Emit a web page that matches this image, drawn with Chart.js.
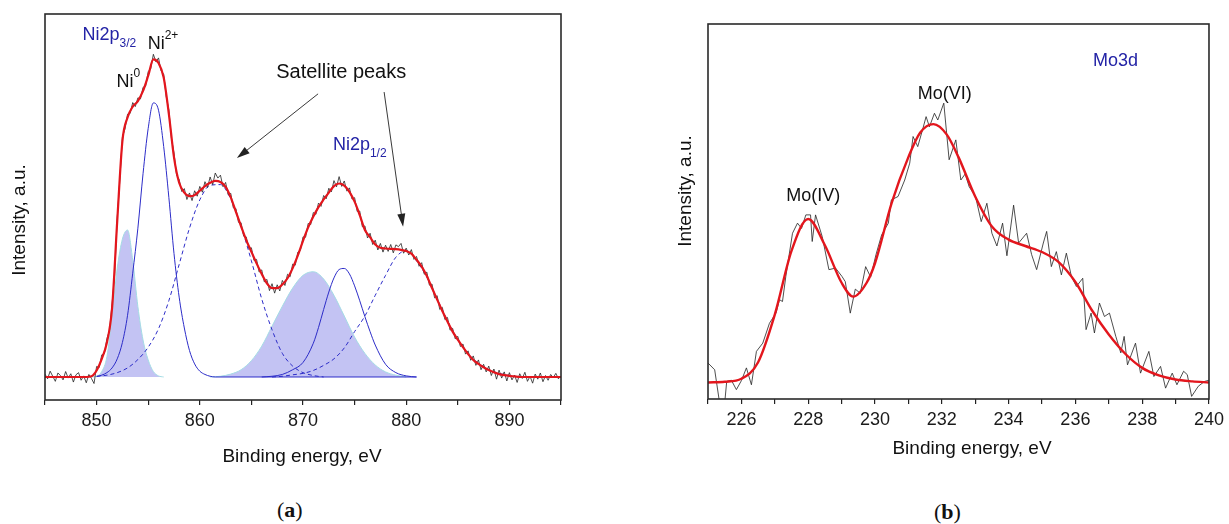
<!DOCTYPE html>
<html>
<head>
<meta charset="utf-8">
<title>XPS spectra: Ni2p and Mo3d</title>
<script src="https://cdn.jsdelivr.net/npm/chart.js@4.4.1/dist/chart.umd.min.js"></script>
<style>
  html, body { margin: 0; padding: 0; background: #fff; }
  #page { position: relative; width: 1229px; height: 524px; overflow: hidden; }
  #niChart { position: absolute; left: 0; top: 0; }
  #moChart { position: absolute; left: 640px; top: 0; }
  .panel-tag {
    position: absolute;
    font-family: "Liberation Serif", "DejaVu Serif", serif;
    font-size: 22px;
    line-height: 22px;
    color: #111;
  }
</style>
</head>
<body>
<div id="page">
  <canvas id="niChart" width="600" height="475"></canvas>
  <canvas id="moChart" width="589" height="475"></canvas>
  <div class="panel-tag" style="left:277px; top:499px;">(<b>a</b>)</div>
  <div class="panel-tag" style="left:934px; top:501px;">(<b>b</b>)</div>
</div>
<script>
// ---- Ni2p spectrum (binding energy in eV, intensity in a.u. with baseline at 0) ----
const niRawStart = 845;
const niRawStep = 0.25;
const niRaw = [
  0.8, -0.5, 1.6, 0.2, -1.2, 1.1, 0.4, -0.8, 1.5, -0.3, 0.9, -1.4, 0.6, 1.2, -0.9, 0.3, -1.6, 0.7, -0.4, -1.8,
  2.9, 2.6, 6.1, 6.4, 10.6, 12.8, 20.2, 28.1, 44.0, 54.2, 66.1, 68.3, 72.4, 72.6, 75.6, 74.5, 76.9, 76.6, 79.8, 80.1,
  84.1, 85.0, 88.9, 86.8, 87.9, 84.3, 83.4, 77.2, 73.6, 65.8, 61.7, 55.6, 54.4, 51.1, 51.9, 48.9, 50.7, 48.6, 51.3, 49.8,
  52.5, 50.9, 53.8, 52.2, 55.1, 53.0, 56.2, 54.8, 55.6, 52.4, 53.6, 50.2, 50.6, 46.6, 46.4, 42.6, 42.5, 38.8, 38.6, 35.4,
  35.6, 32.1, 32.4, 28.9, 29.5, 26.2, 26.9, 23.8, 25.7, 23.1, 25.4, 23.7, 26.6, 25.2, 28.3, 27.6, 31.1, 30.8, 34.4, 34.9,
  38.6, 38.5, 42.3, 42.0, 45.3, 44.8, 47.9, 47.0, 50.0, 49.1, 52.0, 51.0, 54.1, 52.4, 55.2, 52.5, 54.0, 51.2, 52.1, 49.0,
  49.4, 45.6, 45.7, 41.4, 41.6, 38.3, 39.6, 36.5, 37.7, 35.0, 36.8, 34.4, 36.3, 34.6, 36.5, 34.2, 36.4, 35.9, 36.8, 34.1,
  35.5, 33.6, 35.1, 32.4, 33.2, 30.5, 31.5, 28.3, 28.9, 25.3, 25.6, 21.8, 22.4, 18.6, 19.2, 15.8, 16.4, 12.9, 13.4, 10.5,
  11.2, 8.4, 9.1, 6.3, 7.2, 4.6, 5.8, 3.2, 4.7, 2.0, 3.5, 1.4, 3.0, 0.4, 2.2, -0.6, 1.9, -0.3, 1.4, -1.1,
  1.2, -0.8, 0.5, -1.5, 0.9, -0.4, 1.3, -1.2, 0.2, -1.7, 0.8, -0.6, 1.1, -1.3, 0.4, -0.9, 0.7, -0.2, 1.0, -0.5, 0.3
];

// envelope of the fit, every 0.5 eV
const niFitStart = 845;
const niFitStep = 0.5;
const niFit = [
  0, 0, 0, 0, 0, 0, 0, 0, 0, 0.2,
  1.8, 5, 9.5, 19, 43, 65, 71.5, 74.5, 76, 78.8,
  83, 87.5, 86.5, 82.5, 72.5, 60.5, 53.5, 50.8, 49.8, 50.1,
  51.3, 52.6, 53.5, 54, 53.7, 52.4, 49.5, 45.5, 41.5, 37.7,
  34.5, 31.3, 28.4, 25.8, 24.5, 24.5, 25.5, 27.2, 30, 33.5,
  37.5, 41.2, 44.2, 46.8, 48.9, 50.8, 52.6, 53.3, 52.7, 51,
  48.3, 44.6, 40.5, 38.5, 36.5, 35.6, 35.4, 35.3, 35.2, 35,
  34.7, 34, 32.3, 30.4, 27.8, 24.5, 21.3, 18.2, 15.3, 12.5,
  10.3, 8.2, 6.3, 4.7, 3.6, 2.7, 1.9, 1.3, 0.8, 0.5,
  0.3, 0.15, 0, 0, 0, 0, 0, 0, 0, 0, 0
];

// fitted components
const ni0Energy = [849.5, 850, 850.5, 851, 851.5, 852, 852.5, 853, 853.5, 854, 854.5, 855, 855.5, 856, 856.5];
const ni0Peak   = [0, 0.2, 1.5, 5.6, 17, 30, 38, 40.5, 32.2, 19.4, 10.2, 4.7, 1.5, 0.3, 0];

// Ni2+ 2p3/2 line, its zero tail runs on as the drawn baseline
const ni2Energy = [850, 850.5, 851, 851.5, 852, 852.5, 853, 853.5, 854, 854.5, 855, 855.5,
                   856, 856.5, 857, 857.5, 858, 858.5, 859, 859.5, 860, 860.5, 861, 861.5, 870, 881];
const ni2Peak   = [0.1, 0.5, 1.2, 2.5, 5, 9.5, 17, 28.6, 41, 56, 68.5, 75.5,
                   73.5, 63.5, 49.5, 34, 22, 13.5, 7.3, 3.6, 1.6, 0.7, 0.2, 0, 0, 0];

const sat1Energy = [850, 851, 852, 853, 854, 855, 856, 857, 858, 859, 860, 861,
                    862, 863, 864, 865, 866, 867, 868, 869, 870, 871, 872];
const sat1Peak   = [0.2, 0.5, 1.2, 2.5, 4.8, 8.2, 13.3, 21, 31, 41, 48.8, 52.8,
                    53, 49, 41.5, 32, 21.5, 13, 6.5, 3, 1.2, 0.4, 0];

const ni0bEnergy = [861, 862, 863, 864, 865, 866, 867, 868, 869, 870, 871, 872, 873, 874, 875, 876, 877, 878, 879, 880];
const ni0bPeak   = [0, 0.2, 0.8, 2, 4.5, 8.5, 14, 19.5, 24.5, 28, 29, 27, 22.5, 16.8, 11, 6.5, 3.3, 1.4, 0.5, 0];

const ni2bEnergy = [866, 867, 868, 869, 870, 871, 871.5, 872, 872.5, 873, 873.5, 874,
                    874.5, 875, 875.5, 876, 876.5, 877, 878, 879, 880, 881];
const ni2bPeak   = [0, 0.2, 0.7, 2, 4, 9.3, 13.6, 18.6, 23.4, 27.3, 29.6, 29.9,
                    28.4, 25.1, 21, 16.6, 12.5, 8.8, 3.5, 1.2, 0.3, 0];

const sat2Energy = [867, 868, 869, 870, 871, 872, 873, 874, 875, 876, 877, 878, 879,
                    880, 881, 882, 883, 884, 885, 886, 887, 888, 889, 890, 891];
const sat2Peak   = [0, 0.2, 0.6, 1, 1.8, 3.2, 5, 8, 12.5, 16.8, 22.5, 28, 33,
                    34.8, 32, 27.5, 21.5, 15.5, 10.3, 6.4, 3.8, 2, 1, 0.4, 0];

// ---- Mo3d spectrum ----
const moRawEnergy = [
  225.0, 225.2, 225.38, 225.48, 225.56, 225.7, 225.85, 226.0, 226.15, 226.3, 226.45, 226.64, 226.84,
  227.04, 227.14, 227.23, 227.33, 227.53, 227.68, 227.8, 227.93, 228.07, 228.12, 228.22, 228.42, 228.62,
  228.82, 229.01, 229.11, 229.26, 229.41, 229.56, 229.72, 229.87, 230.03, 230.2, 230.4, 230.49, 230.69,
  230.89, 231.04, 231.14, 231.28, 231.43, 231.53, 231.63, 231.78, 231.88, 232.06, 232.22, 232.42, 232.57,
  232.7, 232.82, 233.01, 233.18, 233.35, 233.5, 233.65, 233.82, 233.95, 234.15, 234.3, 234.54, 234.69,
  234.84, 235.04, 235.14, 235.28, 235.43, 235.58, 235.73, 235.88, 236.03, 236.22, 236.32, 236.47, 236.57,
  236.72, 236.87, 237.02, 237.21, 237.36, 237.46, 237.56, 237.8, 237.95, 238.2, 238.35, 238.55, 238.7,
  238.9, 239.04, 239.24, 239.35, 239.48, 239.68, 239.87, 240.0
];
const moRaw = [
  9.6, 7.8, -3, -3, 4.7, 5.0, 2.5, 4.9, 8.3, 3.8, 12.7, 14.9, 20.2,
  23, 26.5, 26, 32.7, 44.2, 46.9, 45.5, 49.1, 49.1, 42, 49.1, 43.3, 34.5,
  34.9, 32.7, 31.3, 22.9, 29.3, 28.2, 35.3, 32.5, 38.5, 43.8, 46.9, 53.1, 54,
  58.4, 62.9, 70, 67.3, 72, 75.3, 72.6, 76.2, 74.4, 78.9, 63.8, 69.1, 58.4,
  60, 56.6, 54, 47.3, 52.2, 44.2, 40.8, 46.9, 38.2, 51.7, 41.6, 44.2, 38.5,
  34.5, 41.6, 44.7, 35.3, 39.3, 33.1, 38.9, 32.7, 30, 32.2, 18.5, 22.9, 17.6,
  25.6, 22, 22.9, 16.7, 12.3, 16.7, 9.1, 14.9, 6.9, 12.7, 6.0, 8.7, 2.9,
  6.9, 3.8, 7.4, 6.5, 0.7, 3.4, 4.7, 5.0
];

const moFitEnergy = [225, 225.5, 226, 226.5, 227, 227.5, 228, 228.5, 229, 229.35, 229.75, 230, 230.5,
                     231, 231.35, 231.75, 232.15, 232.5, 233, 233.5, 234, 234.5, 235, 235.5, 236,
                     236.5, 237, 237.5, 238, 238.5, 239, 239.5, 240];
const moFit = [4.4, 4.6, 5.4, 9.8, 22.5, 39.5, 48, 41, 31, 27.3, 31, 36.2, 52.3,
               64.5, 71, 73.3, 70.5, 64.5, 54, 46, 42.5, 40.8, 39.2, 36.5, 31.2,
               23.6, 17.2, 12, 8.3, 6.3, 5.2, 4.7, 4.4];

const FONT = '"Liberation Sans", Arial, sans-serif';
const RED = '#e3161d';
const BLUE = '#2c2cc8';
const TEXT_BLUE = '#2323a6';

const series = (xs, ys) => ys.map((v, i) => ({ x: xs[i], y: v }));
const stepped = (start, step, ys) => ys.map((v, i) => ({ x: start + i * step, y: v }));

function drawArrow(ctx, x1, y1, x2, y2) {
  const ang = Math.atan2(y2 - y1, x2 - x1);
  const head = 13, half = 4;
  const c = Math.cos(ang), s = Math.sin(ang);
  ctx.beginPath();
  ctx.moveTo(x1, y1);
  ctx.lineTo(x2 - head * c * 0.7, y2 - head * s * 0.7);
  ctx.stroke();
  ctx.beginPath();
  ctx.moveTo(x2, y2);
  ctx.lineTo(x2 - head * c + half * s, y2 - head * s - half * c);
  ctx.lineTo(x2 - head * c - half * s, y2 - head * s + half * c);
  ctx.closePath();
  ctx.fill();
}

// text with sub/superscript runs, left aligned at the baseline
function drawRich(ctx, x, y, parts, color) {
  ctx.fillStyle = color;
  ctx.textBaseline = 'alphabetic';
  ctx.textAlign = 'left';
  let cx = x;
  parts.forEach(p => {
    const size = p.sub || p.sup ? 12 : (p.size || 18);
    const dy = p.sub ? 7 : p.sup ? -10 : 0;
    ctx.font = size + 'px ' + FONT;
    ctx.fillText(p.text, cx, y + dy);
    cx += ctx.measureText(p.text).width;
  });
}

const notesPlugin = {
  id: 'notes',
  afterDatasetsDraw(chart, args, opts) {
    const { ctx, chartArea: area, scales: { x, y } } = chart;
    ctx.save();

    // plot frame
    ctx.strokeStyle = '#2a2a2a';
    ctx.lineWidth = 1.6;
    ctx.strokeRect(area.left, area.top, area.right - area.left, area.bottom - area.top);

    ctx.strokeStyle = '#222';
    ctx.fillStyle = '#222';
    ctx.lineWidth = 0.9;
    (opts.arrows || []).forEach(a => drawArrow(ctx,
      x.getPixelForValue(a.from[0]), y.getPixelForValue(a.from[1]),
      x.getPixelForValue(a.to[0]), y.getPixelForValue(a.to[1])));

    (opts.labels || []).forEach(l =>
      drawRich(ctx, x.getPixelForValue(l.x), y.getPixelForValue(l.y), l.parts, l.color || '#111'));

    // axis titles
    ctx.fillStyle = '#111';
    ctx.font = '19px ' + FONT;
    ctx.textAlign = 'center';
    ctx.textBaseline = 'alphabetic';
    ctx.fillText('Binding energy, eV', opts.xTitle.x, opts.xTitle.y);

    ctx.save();
    ctx.translate(opts.yTitle.x, opts.yTitle.y);
    ctx.rotate(-Math.PI / 2);
    ctx.textBaseline = 'middle';
    ctx.fillText('Intensity, a.u.', 0, 0);
    ctx.restore();

    ctx.restore();
  }
};

function xAxis(min, max, step, labelEvery, height) {
  return {
    type: 'linear',
    min: min,
    max: max,
    afterFit: s => { s.height = height; },
    border: { display: false },
    grid: { drawOnChartArea: false, tickLength: 5, color: '#222', lineWidth: 1.2 },
    ticks: {
      stepSize: step,
      autoSkip: false,
      maxRotation: 0,
      padding: 5,
      color: '#1a1a1a',
      font: { family: FONT, size: 18 },
      callback: v => (Math.round(v) % labelEvery === 0 ? String(v) : '')
    }
  };
}

// ---- Ni2p chart ----
new Chart(document.getElementById('niChart'), {
  type: 'line',
  data: {
    datasets: [
      { data: stepped(niFitStart, niFitStep, niFit), borderColor: RED, borderWidth: 2.2, cubicInterpolationMode: 'monotone' },
      { data: stepped(niRawStart, niRawStep, niRaw), borderColor: '#222', borderWidth: 0.8, tension: 0 },
      { data: series(ni2Energy, ni2Peak), borderColor: BLUE, borderWidth: 1, cubicInterpolationMode: 'monotone' },
      { data: series(ni2bEnergy, ni2bPeak), borderColor: BLUE, borderWidth: 1, cubicInterpolationMode: 'monotone' },
      { data: series(sat1Energy, sat1Peak), borderColor: BLUE, borderWidth: 1, borderDash: [4, 3], cubicInterpolationMode: 'monotone' },
      { data: series(sat2Energy, sat2Peak), borderColor: BLUE, borderWidth: 1, borderDash: [4, 3], cubicInterpolationMode: 'monotone' },
      { data: series(ni0Energy, ni0Peak), borderColor: '#a4dce4', borderWidth: 1, backgroundColor: '#c3c3f3', fill: 'origin', cubicInterpolationMode: 'monotone' },
      { data: series(ni0bEnergy, ni0bPeak), borderColor: '#a4dce4', borderWidth: 1, backgroundColor: '#c3c3f3', fill: 'origin', cubicInterpolationMode: 'monotone' }
    ]
  },
  options: {
    responsive: false,
    animation: false,
    layout: { padding: { left: 45, right: 39, top: 14, bottom: 0 } },
    elements: { point: { radius: 0 } },
    plugins: {
      legend: { display: false },
      tooltip: { enabled: false },
      notes: {
        labels: [
          { x: 848.64, y: 92.8, color: TEXT_BLUE, parts: [{ text: 'Ni2p' }, { text: '3/2', sub: true }] },
          { x: 854.95, y: 90.4, parts: [{ text: 'Ni' }, { text: '2+', sup: true }] },
          { x: 851.94, y: 80, parts: [{ text: 'Ni' }, { text: '0', sup: true }] },
          { x: 867.4, y: 82.4, parts: [{ text: 'Satellite peaks', size: 20 }] },
          { x: 872.9, y: 62.5, color: TEXT_BLUE, parts: [{ text: 'Ni2p' }, { text: '1/2', sub: true }] }
        ],
        arrows: [
          { from: [871.46, 78], to: [863.6, 60.3] },
          { from: [877.86, 78.5], to: [879.7, 41.4] }
        ],
        xTitle: { x: 302, y: 462 },
        yTitle: { x: 20, y: 220 }
      }
    },
    scales: {
      x: xAxis(845, 895, 5, 10, 75),
      y: { display: false, min: -6.34, max: 100 }
    }
  },
  plugins: [notesPlugin]
});

// ---- Mo3d chart ----
new Chart(document.getElementById('moChart'), {
  type: 'line',
  data: {
    datasets: [
      { data: series(moFitEnergy, moFit), borderColor: RED, borderWidth: 2.4, cubicInterpolationMode: 'monotone' },
      { data: series(moRawEnergy, moRaw), borderColor: '#222', borderWidth: 0.8, tension: 0 }
    ]
  },
  options: {
    responsive: false,
    animation: false,
    layout: { padding: { left: 68, right: 15, top: 24, bottom: 0 } },
    elements: { point: { radius: 0 } },
    plugins: {
      legend: { display: false },
      tooltip: { enabled: false },
      notes: {
        labels: [
          { x: 236.53, y: 88.9, color: TEXT_BLUE, parts: [{ text: 'Mo3d' }] },
          { x: 231.28, y: 79.9, parts: [{ text: 'Mo(VI)' }] },
          { x: 227.34, y: 52.8, parts: [{ text: 'Mo(IV)' }] }
        ],
        xTitle: { x: 332, y: 454 },
        yTitle: { x: 46, y: 191 }
      }
    },
    scales: {
      x: xAxis(225, 240, 1, 2, 76),
      y: { display: false, min: 0, max: 100 }
    }
  },
  plugins: [notesPlugin]
});
</script>
</body>
</html>
